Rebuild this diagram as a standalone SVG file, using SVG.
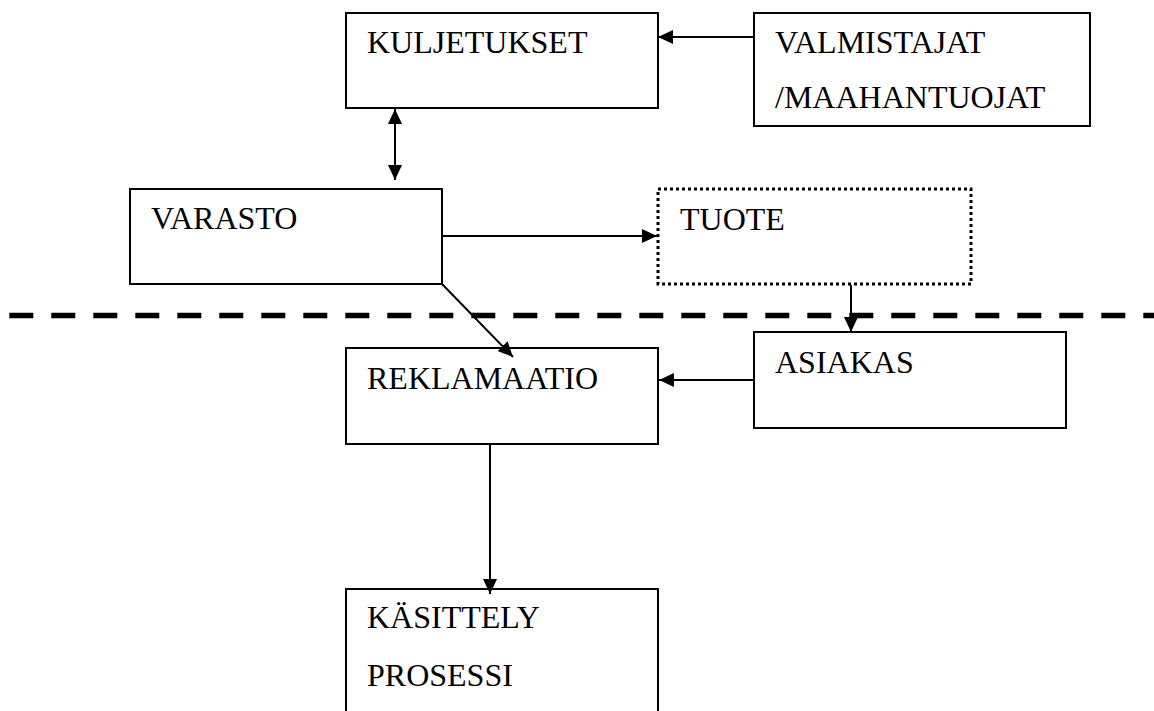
<svg xmlns="http://www.w3.org/2000/svg" width="1154" height="711" viewBox="0 0 1154 711">
  <style>
    .box { fill: #ffffff; stroke: #000000; stroke-width: 2; }
    .dotted { fill: #ffffff; stroke: #000000; stroke-width: 3; stroke-dasharray: 3 3; }
    .label { font-family: "Liberation Serif", "Times New Roman", serif; font-size: 32px; fill: #000000; }
    .conn { fill: none; stroke: #000000; stroke-width: 2; }
    .divider { fill: none; stroke: #000000; stroke-width: 5.5; stroke-dasharray: 24 18; }
  </style>
  <defs>
    <marker id="arrow" markerUnits="userSpaceOnUse" markerWidth="15" markerHeight="14" refX="15" refY="7" orient="auto-start-reverse">
      <path d="M0,0 L15,7 L0,14 Z" fill="#000000"/>
    </marker>
  </defs>

  <!-- horizontal dashed boundary -->
  <line class="divider" x1="9.3" y1="315.5" x2="1154" y2="315.5"/>

  <g id="kuljetukset">
    <rect class="box" x="346" y="13" width="312" height="95"/>
    <text class="label" x="367" y="53">KULJETUKSET</text>
  </g>

  <g id="valmistajat">
    <rect class="box" x="754" y="13" width="336" height="113"/>
    <text class="label" x="775" y="53">VALMISTAJAT</text>
    <text class="label" x="775" y="108">/MAAHANTUOJAT</text>
  </g>

  <g id="varasto">
    <rect class="box" x="130" y="189" width="312" height="95"/>
    <text class="label" x="151" y="229">VARASTO</text>
  </g>

  <g id="tuote">
    <rect class="dotted" x="658" y="189" width="313" height="95"/>
    <text class="label" x="680" y="230">TUOTE</text>
  </g>

  <g id="asiakas">
    <rect class="box" x="754" y="332" width="312" height="96"/>
    <text class="label" x="775" y="373">ASIAKAS</text>
  </g>

  <g id="reklamaatio">
    <rect class="box" x="346" y="348" width="312" height="96"/>
    <text class="label" x="367" y="389">REKLAMAATIO</text>
  </g>

  <g id="kasittely">
    <rect class="box" x="346" y="589" width="312" height="140"/>
    <text class="label" x="367" y="628">KÄSITTELY</text>
    <text class="label" x="367" y="686">PROSESSI</text>
  </g>

  <g id="connectors">
    <line class="conn" x1="754" y1="37" x2="658" y2="37" marker-end="url(#arrow)"/>
    <line class="conn" x1="395" y1="109" x2="395" y2="180" marker-start="url(#arrow)" marker-end="url(#arrow)"/>
    <line class="conn" x1="442" y1="236" x2="657" y2="236" marker-end="url(#arrow)"/>
    <line class="conn" x1="442" y1="284" x2="513" y2="357" marker-end="url(#arrow)"/>
    <line class="conn" x1="851" y1="285" x2="851" y2="332" marker-end="url(#arrow)"/>
    <line class="conn" x1="754" y1="380" x2="659" y2="380" marker-end="url(#arrow)"/>
    <line class="conn" x1="490" y1="444" x2="490" y2="594" marker-end="url(#arrow)"/>
  </g>
</svg>
